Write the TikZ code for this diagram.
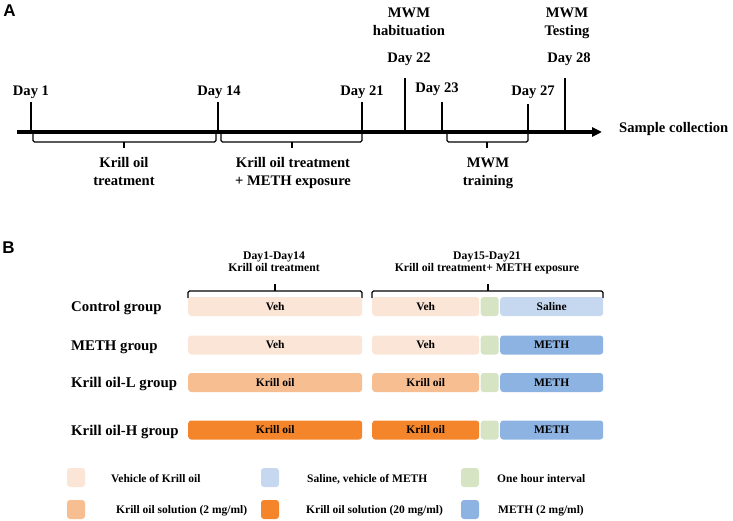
\documentclass[tikz,border=0pt]{standalone}
\usepackage{fontspec}
\setmainfont{Liberation Serif}
\newfontfamily\arialfont{Liberation Sans}
\usetikzlibrary{arrows.meta}
\definecolor{vehc}{HTML}{FBE5D6}
\definecolor{klow}{HTML}{F7BE92}
\definecolor{khigh}{HTML}{F5852A}
\definecolor{gap}{HTML}{D6E4C4}
\definecolor{salc}{HTML}{C6D8F0}
\definecolor{methc}{HTML}{8DB3E2}
\begin{document}
\begin{tikzpicture}[x=1pt,y=-1pt,
  lbl/.style={font=\bfseries\fontsize{14.6}{16}\selectfont, anchor=base, inner sep=0},
  hdr/.style={font=\bfseries\fontsize{11.7}{13}\selectfont, anchor=base, inner sep=0},
  grp/.style={font=\bfseries\fontsize{14.8}{17}\selectfont, anchor=base west, inner sep=0},
  bar/.style={rounded corners=3pt, minimum height=19pt, inner sep=0, anchor=west, font=\bfseries\fontsize{11.5}{13}\selectfont},
  leg/.style={font=\bfseries\fontsize{11.5}{13}\selectfont, anchor=base west, inner sep=0},
  legbox/.style={rounded corners=3pt, minimum width=18pt, minimum height=19pt, inner sep=0},
  tickline/.style={line width=2pt},
  brace/.style={line width=1.3pt, rounded corners=1.5pt},
  panel/.style={font=\arialfont\bfseries\fontsize{17}{19}\selectfont, inner sep=0}
]
\useasboundingbox (0,0) rectangle (733,521);

% ---------- Panel A ----------
\node[panel] (pA) at (9.5,11) {A};

\coordinate (lstart) at (17,132);
\coordinate (lend) at (602,132);
\draw[line width=3.5pt, -{Triangle[length=10pt,width=9pt]}] (lstart) -- (lend);
\node[lbl, anchor=base west] (sample) at (619,133) {Sample collection};

% ticks
\foreach \n/\x/\t in {d1/31/102, d14/218/102, d21/362/102, d22/405/78, d23/442/102, d27/528/104, d28/565/78}{
  \coordinate (\n top) at (\x,\t);
  \coordinate (\n bot) at (\x,132);
  \draw[tickline] (\n bot) -- (\n top);
}
\node[lbl] (l1) at (31,96) {Day 1};
\node[lbl] (l14) at (219,96) {Day 14};
\node[lbl] (l21) at (362,96) {Day 21};
\node[lbl] (l22) at (409,63) {Day 22};
\node[lbl] (l23) at (437,93) {Day 23};
\node[lbl] (l27) at (533,95.5) {Day 27};
\node[lbl] (l28) at (569,63) {Day 28};
\node[lbl] (h1) at (409,18) {MWM};
\node[lbl] (h2) at (409,36) {habituation};
\node[lbl] (tt1) at (567,18) {MWM};
\node[lbl] (tt2) at (567,36) {Testing};

% braces
\foreach \n/\a/\b/\m in {ba/33/216/124, bb/221/362/292, bc/447/528/487}{
  \coordinate (\n L) at (\a,134);
  \coordinate (\n R) at (\b,134);
  \coordinate (\n M) at (\m,142);
  \coordinate (\n T) at (\m,148);
  \draw[brace] (\n L) -- (\a,142) -- (\b,142) -- (\n R);
  \draw[line width=1.3pt] (\n M) -- (\n T);
}
\node[lbl] (k1) at (124,168) {Krill oil};
\node[lbl] (k2) at (124,186) {treatment};
\node[lbl] (k3) at (293,168) {Krill oil treatment};
\node[lbl] (k4) at (293,186) {+ METH exposure};
\node[lbl] (k5) at (488,168) {MWM};
\node[lbl] (k6) at (488,186) {training};

% ---------- Panel B ----------
\node[panel] (pB) at (8.5,248) {B};

\node[hdr] (hd1) at (274,259) {Day1-Day14};
\node[hdr] (hd2) at (274,272) {Krill oil treatment};
\node[hdr] (hd3) at (487,259) {Day15-Day21};
\node[hdr] (hd4) at (487,272) {Krill oil treatment+ METH exposure};

\foreach \n/\a/\b/\m in {bd/188/362/275, be/372/603/488}{
  \coordinate (\n L) at (\a,298);
  \coordinate (\n R) at (\b,298);
  \coordinate (\n M) at (\m,291);
  \coordinate (\n T) at (\m,284);
  \draw[brace] (\n L) -- (\a,291) -- (\b,291) -- (\n R);
  \draw[line width=1.3pt] (\n M) -- (\n T);
}

\node[grp] (g1) at (71,311) {Control group};
\node[grp] (g2) at (71,350) {METH group};
\node[grp] (g3) at (71,387.5) {Krill oil-L group};
\node[grp] (g4) at (71,435) {Krill oil-H group};

% rows
\foreach \r/\y/\ca/\ta/\cb/\tb/\cc/\tc in {
  1/306.5/vehc/Veh/vehc/Veh/salc/Saline,
  2/345/vehc/Veh/vehc/Veh/methc/METH,
  3/382.5/klow/Krill oil/klow/Krill oil/methc/METH,
  4/430/khigh/Krill oil/khigh/Krill oil/methc/METH}{
  \node[bar, fill=\ca, minimum width=174pt] (r\r a) at (188,\y) {\ta};
  \node[bar, fill=\cb, minimum width=107pt] (r\r b) at (372,\y) {\tb};
  \node[bar, fill=gap, minimum width=18pt] (r\r g) at (480.5,\y) {};
  \node[bar, fill=\cc, minimum width=103pt] (r\r c) at (500,\y) {\tc};
}

% legend
\node[legbox, fill=vehc] (lg1) at (76,477.5) {};
\node[legbox, fill=salc] (lg2) at (270,477.5) {};
\node[legbox, fill=gap] (lg3) at (470,477.5) {};
\node[legbox, fill=klow] (lg4) at (76,509.5) {};
\node[legbox, fill=khigh] (lg5) at (270,509.5) {};
\node[legbox, fill=methc] (lg6) at (470,509.5) {};
\node[leg] (lt1) at (111,482) {Vehicle of Krill oil};
\node[leg] (lt2) at (307,482) {Saline, vehicle of METH};
\node[leg] (lt3) at (497,482) {One hour interval};
\node[leg] (lt4) at (116,513.5) {Krill oil solution (2 mg/ml)};
\node[leg] (lt5) at (306,513.5) {Krill oil solution (20 mg/ml)};
\node[leg] (lt6) at (498,513.5) {METH (2 mg/ml)};
\end{tikzpicture}
\end{document}
